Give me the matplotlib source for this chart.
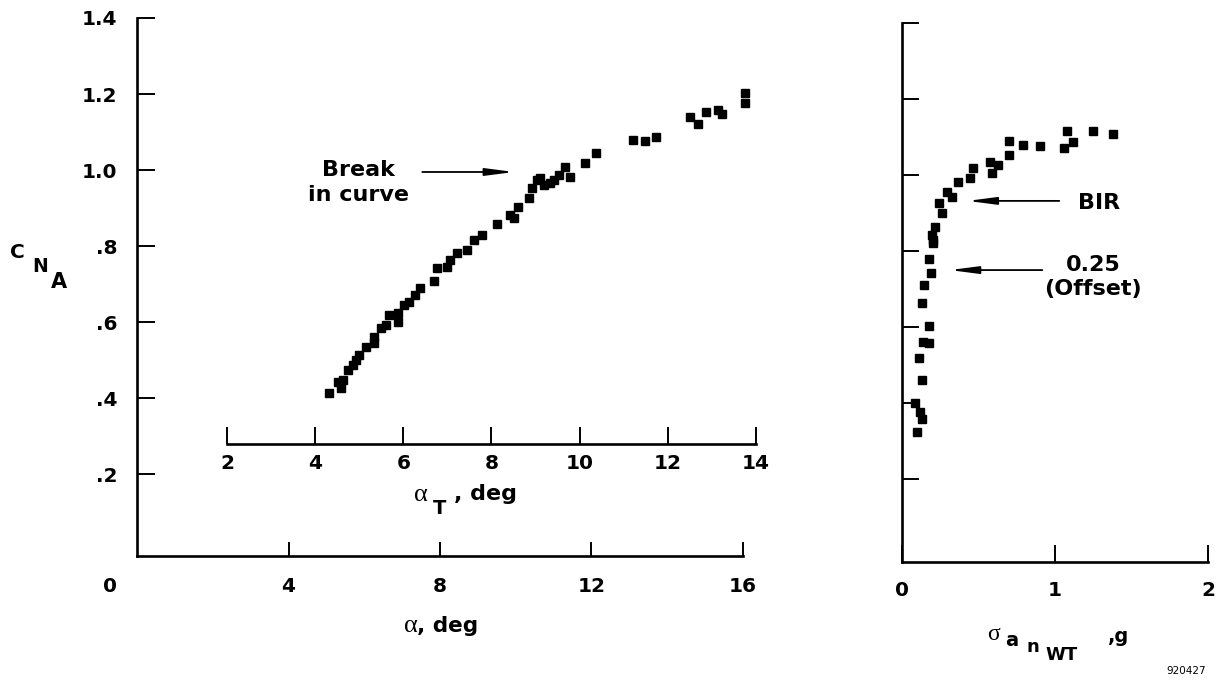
import matplotlib
matplotlib.use('Agg')
import matplotlib.pyplot as plt

plt.rcParams['font.family'] = ['DejaVu Sans']
plt.rcParams['font.weight'] = 'bold'

# left panel: normal force coefficient vs angle of attack
alpha = [5.07, 5.31, 5.44, 5.39, 5.57, 5.71, 5.79, 5.87, 6.05, 6.27, 6.27, 6.45,
         6.58, 6.66, 6.90, 6.90, 7.06, 7.17, 7.33, 7.46, 7.83, 7.91, 8.18, 8.26,
         8.44, 8.71, 8.89, 9.11, 9.50, 9.85, 9.96, 10.06, 10.35, 10.43, 10.57,
         10.65, 10.75, 10.91, 11.02, 11.15, 11.31, 11.44, 11.84, 12.11, 13.09,
         13.41, 13.70, 14.60, 14.81, 15.03, 15.34, 15.45, 16.06, 16.06]
cna_left = [0.413, 0.442, 0.447, 0.426, 0.474, 0.487, 0.500, 0.513, 0.534, 0.545,
            0.561, 0.584, 0.592, 0.618, 0.600, 0.624, 0.645, 0.653, 0.671, 0.689,
            0.708, 0.742, 0.745, 0.763, 0.782, 0.789, 0.816, 0.829, 0.858, 0.882,
            0.874, 0.903, 0.926, 0.953, 0.974, 0.979, 0.961, 0.966, 0.974, 0.987,
            1.008, 0.982, 1.018, 1.045, 1.079, 1.076, 1.087, 1.139, 1.121, 1.153,
            1.158, 1.147, 1.203, 1.176]

# right panel: normal force coefficient vs rms normal acceleration
sigma_an = [0.70, 0.79, 0.90, 1.08, 1.12, 1.06, 1.25, 1.38, 0.70, 0.575, 0.627,
            0.588, 0.464, 0.444, 0.366, 0.294, 0.327, 0.242, 0.261, 0.216, 0.196,
            0.203, 0.203, 0.176, 0.190, 0.144, 0.131, 0.176, 0.137, 0.176, 0.111,
            0.131, 0.085, 0.118, 0.131, 0.098]
cna_right = [1.089, 1.079, 1.076, 1.116, 1.087, 1.071, 1.116, 1.108, 1.053, 1.034,
             1.026, 1.005, 1.018, 0.992, 0.982, 0.955, 0.942, 0.926, 0.900, 0.863,
             0.842, 0.829, 0.821, 0.779, 0.742, 0.711, 0.663, 0.603, 0.561, 0.558,
             0.518, 0.461, 0.400, 0.376, 0.358, 0.324]

y_ticks = [0.2, 0.4, 0.6, 0.8, 1.0, 1.2, 1.4]
y_labels = ['.2', '.4', '.6', '.8', '1.0', '1.2', '1.4']
alpha_ticks = [4, 8, 12, 16]
alpha_t_ticks = [2, 4, 6, 8, 10, 12, 14]
sigma_ticks = [0, 1, 2]

W, H = 1230, 681
TICK_FS = 14.5
NOTE_FS = 16
ARROW = dict(arrowstyle='-|>,head_length=1.7,head_width=0.22', color='black', lw=1.3)


def fx(x):
    return x / W


def fy(y):
    return 1 - y / H


fig = plt.figure(figsize=(12.3, 6.81), dpi=100)

# left panel
ax = fig.add_axes([fx(137), fy(556), (743 - 137) / W, (556 - 18) / H])
ax.plot(alpha, cna_left, 's', color='black', ms=5.5, clip_on=False)
ax.set_xlim(0, 16)
ax.set_ylim(-0.015, 1.4)
ax.set_yticks(y_ticks)
ax.set_yticklabels(y_labels)
ax.set_xticks(alpha_ticks)
ax.set_xticklabels([str(t) for t in alpha_ticks])
ax.tick_params(axis='y', direction='in', length=13, width=1.4, pad=14, labelsize=TICK_FS)
ax.tick_params(axis='x', direction='in', length=10, width=1.4, pad=15, labelsize=TICK_FS)
for s in ['top', 'right']:
    ax.spines[s].set_visible(False)
for s in ['left', 'bottom']:
    ax.spines[s].set_linewidth(1.9)
ax.annotate('', xy=(10.03, 0.995), xytext=(7.46, 0.995), arrowprops=ARROW)
ax.text(5.84, 0.968, 'Break\nin curve', ha='center', va='center',
        fontsize=NOTE_FS, linespacing=1.3)

# inner alpha_T axis
axt = fig.add_axes([fx(227), fy(444), (756 - 227) / W, 0.001])
axt.set_xlim(2, 14)
axt.set_xticks(alpha_t_ticks)
axt.set_xticklabels([str(t) for t in alpha_t_ticks])
axt.set_yticks([])
axt.patch.set_alpha(0)
for s in ['top', 'right', 'left']:
    axt.spines[s].set_visible(False)
axt.spines['bottom'].set_linewidth(1.9)
axt.tick_params(axis='x', direction='in', length=12, width=1.4, pad=7, labelsize=TICK_FS)

# right panel
ax2 = fig.add_axes([fx(902), fy(562), (1208 - 902) / W, (562 - 23) / H])
ax2.plot(sigma_an, cna_right, 's', color='black', ms=5.5, clip_on=False)
ax2.set_xlim(0, 2)
ax2.set_ylim(-0.018, 1.4)
ax2.set_yticks(y_ticks)
ax2.set_yticklabels([])
ax2.set_xticks(sigma_ticks)
ax2.set_xticklabels([str(t) for t in sigma_ticks])
ax2.tick_params(axis='y', direction='in', length=12, width=1.4)
ax2.tick_params(axis='x', direction='in', length=12, width=1.4, pad=14, labelsize=TICK_FS)
for s in ['top', 'right']:
    ax2.spines[s].set_visible(False)
for s in ['left', 'bottom']:
    ax2.spines[s].set_linewidth(1.9)
ax2.annotate('', xy=(0.41, 0.932), xytext=(1.046, 0.932), arrowprops=ARROW)
ax2.text(1.29, 0.926, 'BIR', ha='center', va='center', fontsize=NOTE_FS)
ax2.annotate('', xy=(0.294, 0.75), xytext=(0.935, 0.75), arrowprops=ARROW)
ax2.text(1.25, 0.732, '0.25\n(Offset)', ha='center', va='center',
         fontsize=NOTE_FS, linespacing=1.3)

# origin label of left panel
fig.text(fx(110), fy(586), '0', ha='center', va='center', fontsize=TICK_FS)

# C_N_A label
fig.text(fx(17), fy(252), 'C', ha='center', va='center', fontsize=14.5)
fig.text(fx(40), fy(267), 'N', ha='center', va='center', fontsize=13.5)
fig.text(fx(59), fy(282), 'A', ha='center', va='center', fontsize=15)

# alpha, deg
fig.text(fx(404), fy(626), 'α', ha='left', va='center', fontsize=19,
         family='Liberation Serif', weight='normal')
fig.text(fx(417), fy(626), ', deg', ha='left', va='center', fontsize=15.5)

# alpha_T, deg
fig.text(fx(414), fy(495), 'α', ha='left', va='center', fontsize=19,
         family='Liberation Serif', weight='normal')
fig.text(fx(433), fy(508), 'T', ha='left', va='center', fontsize=14)
fig.text(fx(454), fy(494), ', deg', ha='left', va='center', fontsize=16)

# sigma a n WT, g
fig.text(fx(987), fy(635), 'σ', ha='left', va='center', fontsize=17,
         family='Liberation Serif', weight='normal')
fig.text(fx(1005), fy(641), 'a', ha='left', va='center', fontsize=14)
fig.text(fx(1026), fy(647), 'n', ha='left', va='center', fontsize=13)
fig.text(fx(1045), fy(655), 'WT', ha='left', va='center', fontsize=13)
fig.text(fx(1108), fy(636), ',g', ha='left', va='center', fontsize=14)

fig.text(fx(1186), fy(671), '920427', ha='center', va='center', fontsize=7.5,
         weight='normal')

fig.savefig('out.png', dpi=100)
plt.close(fig)
